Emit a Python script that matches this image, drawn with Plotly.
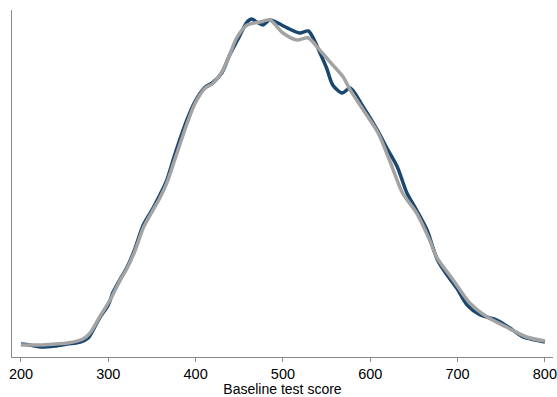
import plotly.graph_objects as go

# Baseline test score (x) and kernel density (x 10^-3) for the two groups
blue_score = [200, 210, 222, 239, 253, 268, 277, 282, 290, 300, 305, 313, 321, 330, 340, 350, 359, 367, 376, 390,
              399, 411, 419, 430, 439, 448, 459, 464, 470, 477, 485, 494, 505, 519, 529, 534, 542, 550, 557, 568,
              577, 592, 608, 619, 631, 642, 653, 665, 677, 688, 699, 711, 726, 745, 760, 775, 789, 800]
blue_density = [0.073, 0.061, 0.037, 0.049, 0.073, 0.098, 0.146, 0.232, 0.390, 0.549, 0.695, 0.854, 1.000, 1.220,
                1.524, 1.707, 1.890, 2.073, 2.378, 2.805, 3.024, 3.207, 3.256, 3.378, 3.598, 3.780, 4.000, 4.037,
                4.000, 3.963, 4.024, 3.988, 3.927, 3.866, 3.890, 3.817, 3.634, 3.439, 3.232, 3.134, 3.195, 2.963,
                2.683, 2.463, 2.232, 1.915, 1.707, 1.463, 1.098, 0.915, 0.756, 0.549, 0.427, 0.366, 0.268, 0.159,
                0.122, 0.098]

gray_score = [200, 222, 239, 253, 271, 279, 290, 302, 313, 321, 330, 340, 350, 359, 367, 376, 390, 399, 411, 419,
              430, 439, 447, 459, 474, 485, 500, 516, 529, 542, 557, 569, 577, 592, 609, 622, 637, 653, 668, 676,
              695, 714, 734, 756, 779, 800]
gray_density = [0.061, 0.061, 0.073, 0.085, 0.134, 0.207, 0.402, 0.610, 0.841, 0.988, 1.195, 1.488, 1.683, 1.854,
                2.037, 2.317, 2.756, 3.000, 3.195, 3.244, 3.390, 3.598, 3.805, 3.963, 4.000, 4.024, 3.866, 3.780,
                3.805, 3.659, 3.476, 3.329, 3.171, 2.927, 2.646, 2.317, 1.915, 1.671, 1.341, 1.134, 0.854, 0.573,
                0.402, 0.280, 0.159, 0.110]

x_ticks = [200, 300, 400, 500, 600, 700, 800]

fig = go.Figure()
fig.add_trace(go.Scatter(x=blue_score, y=blue_density, mode="lines",
                         line=dict(color="#1a476f", width=3.5, shape="spline", smoothing=0.8),
                         showlegend=False, hoverinfo="skip"))
fig.add_trace(go.Scatter(x=gray_score, y=gray_density, mode="lines",
                         line=dict(color="#a3a3a3", width=3.5, shape="spline", smoothing=0.8),
                         showlegend=False, hoverinfo="skip"))

fig.update_layout(
    width=557, height=397,
    margin=dict(l=12, r=4, t=10, b=40, autoexpand=False),
    paper_bgcolor="white", plot_bgcolor="white",
    font=dict(family="Liberation Sans, Arial, Helvetica, sans-serif", color="black"),
    xaxis=dict(range=[189.7, 809.3], tickvals=x_ticks, ticks="outside", ticklen=4, tickwidth=1,
               tickcolor="#888888", showline=True, linecolor="#888888", linewidth=1,
               showgrid=False, zeroline=False, tickfont=dict(size=14.5), automargin=False,
               title=dict(text="Baseline test score", font=dict(size=14), standoff=4)),
    yaxis=dict(range=[-0.085, 4.146], showline=True, linecolor="#888888", linewidth=1, automargin=False,
               showticklabels=False, ticks="", showgrid=False, zeroline=False),
)

fig.write_html("out.html")
